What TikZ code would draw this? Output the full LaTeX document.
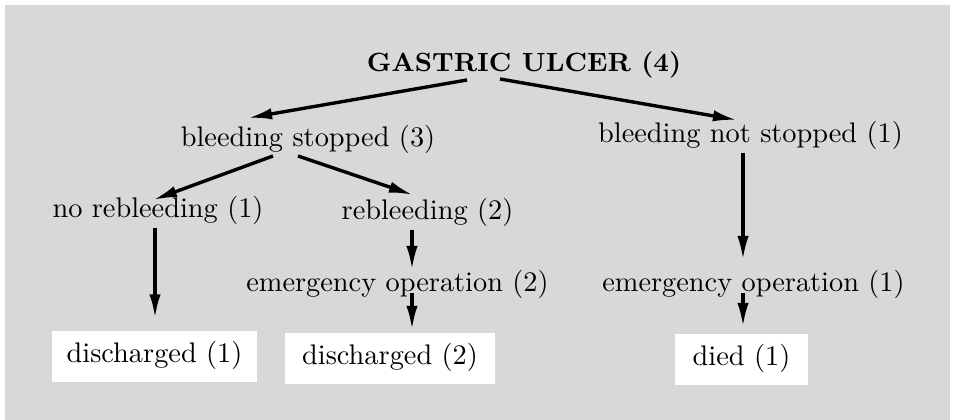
\documentclass[tikz,border=0pt]{standalone}
\usepackage{tikz}
\usetikzlibrary{arrows.meta, positioning, calc}
\definecolor{scangray}{RGB}{216,216,216}

\begin{document}
\begin{tikzpicture}[
      x=0.353pt, y=-0.353pt,
      lbl/.style={anchor=base, inner sep=0pt, font=\normalsize},
      leaf/.style={fill=white, inner sep=0pt, minimum width=#1,
                   minimum height=18pt, text depth=3.5pt, font=\normalsize},
      arr/.style={-{Latex[length=8.5pt, width=4pt]}, line width=1.2pt}
  ]
    \useasboundingbox (0,0) rectangle (961,420);
    \fill[scangray] (5,5) rectangle (950,420);

    % top and second level
    \node[lbl, font=\fontsize{9.3}{11}\selectfont\bfseries] (ulcer) at (524,72) {GASTRIC ULCER (4)};
    \node[lbl] (stopped)    at (308,147)   {bleeding stopped (3)};
    \node[lbl] (notstopped) at (750.5,143) {bleeding not stopped (1)};

    % third level
    \node[lbl] (norebleed) at (158,218)   {no rebleeding (1)};
    \node[lbl] (rebleed)   at (427.5,220) {rebleeding (2)};
    \node[lbl] (emopA)     at (397.5,292) {emergency operation (2)};
    \node[lbl] (emopB)     at (753.5,292) {emergency operation (1)};

    % outcomes
    \node[leaf=72.4pt] (dischA) at (154.5,356.5) {discharged (1)};
    \node[leaf=74.1pt] (dischB) at (390,359)     {discharged (2)};
    \node[leaf=47pt]   (died)   at (741.5,360)   {died (1)};

    \draw[arr] ($(ulcer.base)+(-57,8)$)   -- ($(stopped.base)+(-60,-29)$);
    \draw[arr] ($(ulcer.base)+(-24,7)$)   -- ($(notstopped.base)+(-13.5,-23)$);
    \draw[arr] ($(stopped.base)+(-35,9)$) -- ($(norebleed.base)+(-5,-18)$);
    \draw[arr] ($(stopped.base)+(-10,9)$) -- ($(rebleed.base)+(-14.5,-25)$);
    \draw[arr] ($(norebleed.base)+(-3,10)$) -- ($(dischA.north)+(0.5,-12)$);
    \draw[arr] ($(rebleed.base)+(-15.5,10)$) -- ($(emopA.base)+(14.5,-22)$);
    \draw[arr] ($(emopA.base)+(14.5,1)$)  -- ($(dischB.north)+(22,-3)$);
    \draw[arr] ($(notstopped.base)+(-7.5,10)$) -- ($(emopB.base)+(-10.5,-32)$);
    \draw[arr] ($(emopB.base)+(-10.5,1)$) -- ($(died.north)+(1.5,-7)$);
  \end{tikzpicture}
\end{document}
